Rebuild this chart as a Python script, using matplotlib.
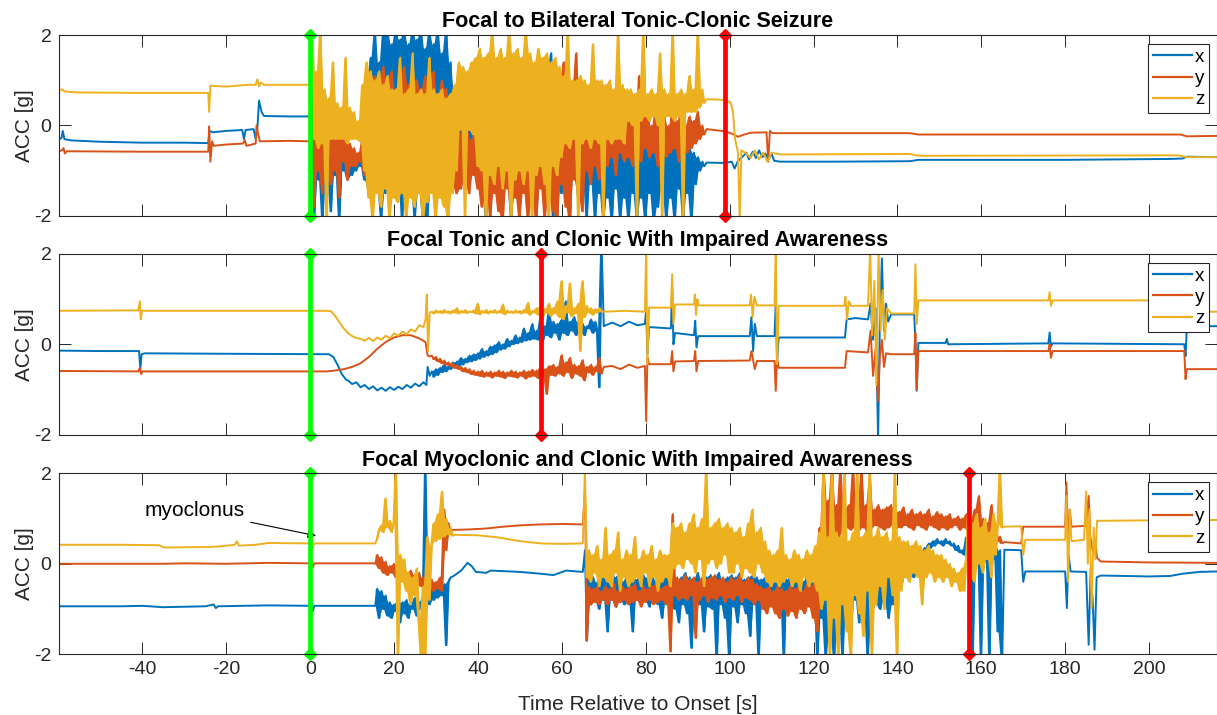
import numpy as np
import matplotlib
matplotlib.use('Agg')
import matplotlib.pyplot as plt

plt.rcParams['font.family'] = ['Liberation Sans', 'DejaVu Sans']
plt.rcParams['axes.unicode_minus'] = False

STEP = 0.5  # spacing of the dense burst readings [s]

titles = ['Focal to Bilateral Tonic-Clonic Seizure',
          'Focal Tonic and Clonic With Impaired Awareness',
          'Focal Myoclonic and Clonic With Impaired Awareness']
onsets = [0, 0, 0]
offsets = [99, 55, 157]
channels = ['x', 'y', 'z']
xticks = [-40, -20, 0, 20, 40, 60, 80, 100, 120, 140, 160, 180, 200]
yticks = [-2, 0, 2]

# ---------------- seizure 1 ----------------
p1_x_pts = [(-60, -0.30), (-59.3, -0.28), (-59.0, -0.12), (-58.6, -0.30), (-57, -0.33), (-50, -0.36),
            (-40, -0.38), (-30, -0.38), (-24.3, -0.39), (-24.0, -0.12), (-23.2, -0.15), (-20, -0.12),
            (-16.2, -0.10), (-15.8, -0.30), (-15.4, -0.10), (-13.5, -0.08), (-13.0, -0.30), (-12.6, -0.08),
            (-12.2, 0.55), (-11.6, 0.30), (-11.0, 0.21), (-5, 0.20), (0.0, 0.20),
            (94.5, -0.82), (99, -0.83), (100.5, -0.80), (101.2, -0.95), (102, -0.78), (103, -0.70),
            (104, -0.60), (104.6, -0.75), (105.5, -0.58), (106.3, -0.72), (107, -0.55), (107.8, -0.70),
            (108.5, -0.62), (109.3, -0.75), (110, -0.62), (110.6, -0.78), (112, -0.80), (125, -0.80),
            (143, -0.79), (145, -0.76), (180, -0.76), (205, -0.74), (208, -0.73), (209, -0.69), (216.3, -0.70)]
p1_x_burst = (0.5, [
    -0.3, -2.1, -0.6, -1.2, -0.7, -2.1, -0.6, -1.1, -0.7, -1.9,
    -0.6, -1.1, -0.7, -2.1, -0.7, -1.0, -0.6, -1.2, -0.7, -1.1,
    -0.7, -1.0, -0.8, -0.9, -0.5, -1.2, 0.8, -1.4, 1.5, -1.5,
    2.1, -1.4, 1.4, -2.1, 2.1, -1.5, 2.1, -1.3, 1.8, -1.4,
    2.1, -1.2, 1.9, -2.1, 2.1, -1.4, 1.8, -1.3, 2.1, -2.1,
    1.9, -1.5, 2.1, -2.1, 1.7, -2.1, 2.1, -1.4, 1.8, -1.5,
    2.1, -1.3, 1.6, -1.6, 2.1, -1.4, 1.4, -1.2, 0.8, -1.0,
    0.3, -0.8, 0.2, -0.9, 0.1, -0.8, 0.2, -1.0, 0.5, -1.2,
    1.2, -1.5, 1.0, -2.1, 1.3, -1.2, 0.9, -1.4, 1.1, -1.0,
    1.2, -1.6, 0.8, -1.3, 1.0, -2.1, 1.1, -1.2, 0.9, -1.5,
    1.0, -1.1, 1.2, -1.8, 0.8, -1.2, 1.0, -2.1, 0.7, -1.3,
    0.9, -1.4, 1.0, -1.0, 1.6, -2.1, 0.8, -1.2, 0.6, -1.5,
    0.5, -1.2, 0.7, -2.1, 0.4, -1.0, 0.6, -1.6, 0.3, -1.1,
    0.0, -2.1, -0.2, -1.3, -0.3, -2.1, -0.2, -1.5, -0.4, -2.1,
    -0.4, -1.6, -0.3, -2.1, -0.5, -1.4, -0.4, -2.1, -0.5, -1.6,
    -0.5, -2.1, -0.4, -1.5, -0.5, -2.1, -0.4, -1.6, -0.5, -2.1,
    -0.4, -1.5, -0.5, -2.1, -0.4, -1.8, -0.5, -1.4, -0.6, -2.1,
    -0.4, -1.6, -0.5, -2.1, -0.5, -1.4, -0.4, -2.1, -0.5, -1.5,
    -0.5, -2.1, -0.6, -1.3, -0.7, -1.0, -0.8, -0.9])

p1_y_pts = [(-60, -0.57), (-59.2, -0.55), (-58.8, -0.50), (-58.5, -0.62), (-58, -0.57), (-40, -0.58),
            (-24.3, -0.58), (-24.1, -0.02), (-23.8, -0.80), (-23.4, -0.35), (-23, -0.45), (-20, -0.42),
            (-16, -0.40), (-15.6, -0.32), (-15.2, -0.45), (-13, -0.40), (-12.8, 0.00), (-12.4, -0.20),
            (-12.0, -0.35), (-5, -0.34), (0, -0.35),
            (94.5, -0.08), (99, -0.13), (100.5, -0.18), (102, -0.25), (103.5, -0.20), (105, -0.16),
            (108.8, -0.15), (109.2, -0.80), (109.6, -0.12), (110.2, -0.17), (143, -0.17), (145, -0.20),
            (207.5, -0.20), (209, -0.24), (216.3, -0.23)]
p1_y_burst = (0.5, [
    1.2, -1.8, 0.4, -1.0, 0.2, -1.5, -0.1, -0.9, 0.0, -1.3,
    -0.2, -1.0, 0.1, -1.6, -0.3, -0.8, -0.2, -1.2, -0.4, -0.9,
    -0.5, -0.9, -0.6, -0.8, -0.3, -1.1, 0.5, -1.4, 1.0, -1.7,
    1.1, -1.3, 0.9, -1.6, 1.3, -1.1, 1.0, -1.5, 1.2, -1.2,
    0.8, -1.6, 1.1, -1.0, 1.3, -1.4, 0.9, -1.2, 1.2, -1.7,
    1.0, -1.1, 0.8, -1.5, 1.1, -1.3, 0.9, -1.0, 1.2, -1.6,
    0.7, -1.2, 1.0, -1.4, 0.8, -0.9, 0.3, -1.3, 0.0, -1.5,
    -0.1, -1.4, -0.2, -1.2, -0.1, -1.5, -0.3, -1.1, 0.2, -1.4,
    0.8, -1.8, 0.6, -1.3, 1.0, -2.1, 0.7, -1.5, 0.9, -1.9,
    0.5, -2.1, 0.8, -1.4, 0.6, -1.9, 1.2, -1.6, 0.7, -2.1,
    0.9, -1.5, 0.6, -2.1, 1.1, -1.7, 0.5, -2.1, 0.8, -1.4,
    0.6, -2.1, 1.0, -1.6, 0.7, -1.9, 0.5, -2.1, 0.9, -1.3,
    1.4, -1.8, 0.6, -2.1, 0.8, -1.2, 1.6, -1.5, 0.5, -1.9,
    0.7, -1.0, 0.4, -1.3, 1.0, -0.9, 0.3, -1.2, 0.6, -0.8,
    0.2, -0.9, 0.5, -0.7, 0.1, -1.1, 0.9, -0.6, 0.3, -0.8,
    0.1, -0.7, 0.4, -0.9, 0.0, -0.6, 1.1, -0.8, 0.2, -0.5,
    0.3, -0.7, 0.0, -0.6, 0.5, -0.9, 0.1, -0.5, 0.2, -0.7,
    0.0, -0.6, 0.4, -0.5, 0.1, -0.8, 0.3, -0.4, 0.0, -0.6,
    0.2, -0.5, 0.1, -0.4, 0.3, -0.3, 0.0, -0.2])

p1_z_pts = [(-60, 0.76), (-59.2, 0.80), (-58.5, 0.75), (-55, 0.73), (-40, 0.72), (-24.3, 0.72),
            (-24.1, 0.30), (-23.8, 0.88), (-20, 0.86), (-15, 0.90), (-13, 0.90), (-12.6, 1.02),
            (-12.2, 0.86), (-11.8, 0.95), (-11.0, 0.90), (0, 0.90),
            (94.5, 0.58), (98, 0.57), (100.2, 0.52), (100.8, 0.30), (101.3, -0.30), (102.0, -0.60),
            (102.4, -2.1), (102.8, -0.55), (104, -0.62), (105, -0.72), (106, -0.55), (107, -0.75),
            (108, -0.60), (109, -0.80), (110, -0.60), (112, -0.64), (143, -0.63), (145, -0.67),
            (207, -0.66), (209, -0.70), (216.3, -0.70)]
p1_z_burst = (0.5, [
    2.1, -0.3, 1.2, -0.5, 2.1, -0.4, 0.8, -2.1, 0.6, -0.3,
    1.4, -0.3, 0.5, -0.3, 0.4, -0.3, 1.5, -0.4, 0.4, -0.3,
    0.3, -0.3, 0.1, -0.35, 0.9, -1.0, 1.4, -1.6, 1.2, -2.1,
    1.0, -1.5, 1.2, -1.8, 0.9, -1.4, 1.1, -2.1, 0.8, -1.6,
    0.8, -1.7, 1.5, -1.5, 0.7, -2.1, 0.8, -1.6, 1.6, -1.8,
    0.7, -1.5, 0.8, -2.1, 0.7, -1.7, 1.5, -1.5, 0.8, -2.1,
    0.7, -1.6, 0.8, -1.8, 0.6, -2.1, 0.7, -1.5, 0.9, -1.0,
    1.4, -0.1, 1.3, -2.1, 1.2, -0.1, 1.4, -0.2, 1.5, -0.9,
    1.7, -1.0, 1.5, -2.1, 1.6, -1.1, 2.1, -1.3, 1.5, -0.9,
    1.7, -1.4, 1.5, -1.0, 2.1, -2.1, 1.6, -1.2, 1.7, -1.0,
    1.5, -1.3, 2.1, -1.0, 1.6, -2.1, 1.4, -1.1, 1.7, -0.9,
    1.5, -1.3, 1.6, -2.1, 1.4, -0.9, 1.5, -1.1, 1.3, -0.7,
    1.1, -0.4, 2.1, -0.5, 1.0, -0.3, 1.0, -2.1, 1.1, -0.4,
    1.0, -0.3, 0.9, -0.5, 1.8, -0.3, 1.0, -0.4, 1.0, -2.1,
    0.9, -0.3, 1.0, -0.4, 0.8, -0.3, 2.1, -0.3, 0.9, -0.4,
    0.8, 0.1, 0.8, 0.0, 0.7, -2.1, 0.8, 0.1, 2.1, 0.2,
    0.7, 0.1, 0.8, 0.2, 0.7, 0.0, 1.6, -2.1, 0.8, 0.2,
    0.7, 0.2, 2.1, 0.1, 0.7, 0.2, 0.8, -2.1, 0.7, 0.3,
    1.1, 0.3, 0.8, 0.3, 2.1, 0.4, 0.8, 0.5])

# ---------------- seizure 2 ----------------
p2_x_pts = [(-60, -0.14), (-50, -0.15), (-40.8, -0.15), (-40.5, -0.55), (-40.2, -0.22), (-39.5, -0.20),
            (-20, -0.21), (4.5, -0.22), (5.5, -0.28), (6.5, -0.45), (7.5, -0.65), (8.5, -0.78),
            (9, -0.80), (10, -0.88), (11, -0.84), (12, -0.95), (13, -0.90), (14, -0.99), (15, -0.93),
            (16, -1.02), (17, -0.96), (18, -1.03), (19, -0.95), (20, -1.01), (21, -0.94), (22, -0.99),
            (23, -0.90), (24, -0.96), (25, -0.87), (26, -0.93), (27, -0.84), (27.7, -0.90),
            (28.0, -0.50), (28.5, -0.70),
            (70.0, 0.40), (72, 0.48), (74, 0.40), (76, 0.50), (78, 0.42), (79.8, 0.45), (80.1, 0.75),
            (80.4, -0.22), (80.8, 0.38), (86.0, 0.35), (86.3, 1.24), (86.6, 0.0), (87.0, 0.25),
            (91.5, 0.20), (91.8, 0.52), (92.1, -0.07), (92.5, 0.18), (104.8, 0.18), (105.2, 0.60),
            (105.6, -0.15), (106.0, 0.45), (106.5, 0.18), (110.7, 0.18), (111.0, 0.92), (111.3, -0.40),
            (111.7, 0.15), (127.5, 0.15), (127.9, 0.55), (130, 0.58), (133, 0.55), (133.6, 0.9),
            (134.2, 0.1), (134.8, 0.8), (135.4, -2.1), (135.8, 0.4), (136.3, 1.9), (136.8, 0.3),
            (137.3, 0.9), (137.8, 0.5), (138.5, 0.66), (144.0, 0.66), (144.3, 0.04), (144.6, -1.03),
            (145.0, 0.03), (151.5, 0.03), (151.8, 0.12), (152.1, 0.0), (176.0, 0.02), (176.3, 0.26),
            (176.6, -0.05), (177.0, 0.02), (208.4, 0.0), (208.7, -0.26), (209.0, 0.35), (209.5, 0.40),
            (216.3, 0.40)]
p2_x_burst = (29.0, [
    -0.60, -0.72, -0.55, -0.68, -0.52, -0.62, -0.45, -0.60, -0.48, -0.55,
    -0.40, -0.52, -0.38, -0.48, -0.30, -0.45, -0.32, -0.40, -0.25, -0.38,
    -0.22, -0.35, -0.20, -0.32, -0.10, -0.28, -0.15, -0.25, -0.05, -0.22,
    -0.02, -0.18, 0.05, -0.12, 0.00, -0.10, 0.12, -0.05, 0.08, 0.00,
    0.20, 0.02, 0.15, 0.05, 0.35, 0.08, 0.25, 0.10, 0.45, 0.12,
    0.30, 0.10, 0.60, 0.05, 0.40, 0.20, 0.75, 0.15, 0.50, 0.25,
    0.45, 0.10, 0.55, 0.25, 0.95, 0.20, 0.50, 0.30, 0.60, 0.20,
    0.50, 0.30, 0.45, 0.20, 0.40, 0.35, 0.55, 0.25, 0.50, 0.30,
    -0.95, 2.1])

p2_y_pts = [(-60, -0.59), (-41, -0.60), (-40.6, -0.52), (-40.3, -0.66), (-40, -0.60), (-20, -0.60),
            (4, -0.60), (6, -0.58), (8, -0.55), (10, -0.50), (12, -0.42), (14, -0.28), (16, -0.10),
            (18, 0.05), (20, 0.15), (22, 0.20), (24, 0.20), (26, 0.13), (27.5, 0.05), (28.0, -0.25),
            (28.5, -0.27),
            (70, -0.50), (72, -0.48), (74, -0.55), (76, -0.45), (78, -0.52), (79.8, -0.48), (80.1, -1.70),
            (80.4, -0.30), (80.8, -0.44), (86.0, -0.44), (86.3, -0.15), (86.6, -0.60), (87.0, -0.38),
            (91.5, -0.37), (91.8, -0.15), (92.1, -0.60), (92.5, -0.37), (104.8, -0.36), (105.2, -0.15),
            (106.0, -0.55), (106.5, -0.37), (110.7, -0.37), (111.0, -1.03), (111.3, -0.30), (111.7, -0.52),
            (127.5, -0.52), (127.9, -0.15), (133, -0.18), (133.6, 0.3), (134.2, -0.7), (134.8, -0.1),
            (135.4, -1.25), (135.8, -0.3), (136.3, 0.1), (136.8, -0.5), (137.3, -0.2), (138.5, -0.22),
            (144.0, -0.22), (144.3, 0.25), (144.6, -1.0), (145.0, -0.15), (176.0, -0.15), (176.3, 0.0),
            (176.6, -0.3), (177.0, -0.15), (208.4, -0.15), (208.7, -0.77), (209.0, -0.55), (216.3, -0.55)]
p2_y_burst = (29.0, [
    -0.25, -0.33, -0.28, -0.38, -0.32, -0.42, -0.36, -0.45, -0.40, -0.48,
    -0.42, -0.52, -0.46, -0.55, -0.50, -0.60, -0.52, -0.62, -0.55, -0.66,
    -0.58, -0.68, -0.60, -0.70, -0.58, -0.72, -0.62, -0.70, -0.60, -0.74,
    -0.62, -0.70, -0.58, -0.72, -0.60, -0.75, -0.62, -0.70, -0.58, -0.72,
    -0.60, -0.74, -0.62, -0.70, -0.58, -0.76, -0.60, -0.72, -0.56, -0.70,
    -0.58, -0.75, -0.50, -0.72, -0.55, -1.10, -0.48, -0.68, -0.45, -0.70,
    -0.50, -0.65, -0.24, -0.70, -0.40, -0.62, -0.30, -0.75, -0.45, -0.65,
    -0.48, -0.70, -0.35, -0.80, -0.50, -0.62, -0.45, -0.68, -0.50, -0.60,
    -0.30, -0.65])

p2_z_pts = [(-60, 0.74), (-41, 0.75), (-40.6, 0.95), (-40.4, 0.55), (-40.1, 0.74), (-20, 0.74),
            (4, 0.74), (5, 0.73), (6, 0.62), (7, 0.48), (8, 0.35), (9, 0.25), (10, 0.18), (11, 0.14),
            (12, 0.12), (13, 0.08), (14, 0.14), (15, 0.07), (16, 0.15), (17, 0.10), (18, 0.19),
            (19, 0.13), (20, 0.24), (21, 0.19), (22, 0.28), (23, 0.22), (24, 0.33), (25, 0.28),
            (26, 0.42), (27, 0.38), (27.5, 0.55), (27.8, 1.10), (28.1, -0.15), (28.5, 0.70),
            (70, 0.72), (75, 0.74), (79.8, 0.72), (80.1, 2.1), (80.4, -0.44), (80.8, 0.81), (86.0, 0.81),
            (86.3, 1.55), (86.6, 0.45), (87.0, 0.88), (91.5, 0.88), (91.7, 1.1), (92.0, 0.65), (92.3, 1.0),
            (92.6, 0.86), (104.8, 0.86), (105.1, 1.1), (105.5, 0.6), (105.9, 1.05), (106.5, 0.86),
            (110.7, 0.86), (111.0, 2.1), (111.3, -0.44), (111.7, 0.85), (127.3, 0.85), (127.6, 1.05),
            (128.0, 0.55), (128.4, 0.95), (129, 0.85), (133, 0.85), (133.5, 2.1), (134.0, 0.2),
            (134.5, 1.4), (135.0, -0.9), (135.5, 2.1), (136.0, 0.3), (136.5, 1.2), (137.0, 0.1),
            (137.5, 0.8), (138.5, 0.68), (144.0, 0.68), (144.3, 1.77), (144.6, 0.45), (145.0, 0.97),
            (176.0, 0.97), (176.3, 1.15), (176.6, 0.85), (177.0, 0.97), (208.4, 0.97), (208.7, 1.2),
            (209.0, 0.72), (216.3, 0.72)]
p2_z_burst = (29.0, [
    0.72, 0.68, 0.75, 0.70, 0.74, 0.69, 0.76, 0.70, 0.73, 0.68,
    0.75, 0.70, 0.80, 0.68, 0.74, 0.70, 0.76, 0.69, 0.73, 0.71,
    0.75, 0.68, 0.90, 0.66, 0.74, 0.70, 0.76, 0.68, 0.74, 0.70,
    0.76, 0.69, 0.74, 0.70, 0.88, 0.66, 0.75, 0.70, 0.73, 0.69,
    0.75, 0.70, 0.74, 0.68, 0.76, 0.70, 0.92, 0.65, 0.74, 0.70,
    0.80, 0.65, 0.85, 0.60, 0.78, 0.70, 0.90, 0.62, 0.80, 0.68,
    0.95, 0.60, 1.40, 0.55, 0.85, 0.70, 1.35, 0.62, 0.80, 0.68,
    0.90, -0.15, 1.40, 0.60, 0.85, 0.70, 0.80, 0.65, 0.78, 0.70,
    0.80, 0.72])

# ---------------- seizure 3 ----------------
p3_x_pts = [(-60, -0.94), (-45, -0.94), (-40, -0.93), (-35, -0.96), (-25, -0.94), (-23, -0.90),
            (-22.5, -0.98), (-22, -0.94), (-10, -0.92), (0, -0.93), (0.3, -0.78), (0.6, -1.05),
            (1.0, -0.93), (15, -0.93),
            (34.5, -0.25), (36, -0.15), (37.5, 0.02), (38.5, -0.05), (39.5, -0.18), (42, -0.20),
            (43, -0.15), (50, -0.18), (55, -0.22), (58, -0.25), (61, -0.15), (65, -0.18),
            (165.5, 0.31), (169.5, 0.30), (170.0, -0.40), (170.5, -0.17), (180, -0.17), (180.4, -0.98),
            (180.8, 0.2), (181.3, -0.17), (185, -0.18), (185.6, -1.79), (186.1, -0.1), (186.6, -0.9),
            (187.0, -1.9), (187.5, -0.3), (188.5, -0.26), (195, -0.27), (200, -0.28), (205, -0.27),
            (208, -0.22), (212, -0.18), (216.3, -0.17)]
p3_x_burst1 = (15.5, [
    -0.93, -0.55, -1.20, -0.60, -1.00, -0.70, -1.15, -0.85, -1.20, -0.90,
    -1.05, -0.80, -1.30, -0.85, -1.10, -0.80, -1.20, -0.90, -1.00, -0.75,
    -1.15, -0.85, -1.00, -0.70, 2.10, -0.60, -0.90, -0.50, -0.80, -0.55,
    -0.75, -0.50, -0.70, -0.45, -1.80, -0.40, -0.30, -0.28])
p3_x_burst2 = (65.5, [
    0.3, -1.7, -0.2, -0.9, -0.3, -0.8, -0.4, -1.0, -0.3, -0.8,
    -0.2, -1.5, -0.35, -0.8, -0.3, -0.95, -0.25, -0.75, -0.4, -0.9,
    -0.3, -0.85, -0.2, -1.5, -0.35, -0.8, -0.3, -0.9, -0.25, -0.8,
    -0.3, -0.95, -0.2, -0.8, -0.35, -0.9, -0.3, -1.2, -0.25, -0.85,
    -0.3, -0.9, -0.2, -1.0, -0.4, -1.3, -0.3, -0.9, -0.2, -1.1,
    -0.3, -1.86, -0.35, -1.0, -0.2, -0.9, -0.4, -1.5, -0.3, -0.95,
    -0.25, -1.0, -0.3, -2.1, -0.2, -0.9, -0.35, -1.2, -0.3, -2.1,
    -0.25, -0.95, -0.3, -1.3, -0.2, -0.9, -0.35, -1.1, -0.3, -1.6,
    -0.25, -0.9, -0.3, -2.1, -0.35, -0.8, -0.3, -0.75, -0.35, -0.7,
    -0.3, -0.7, -0.35, -0.65, -0.3, -2.1, -0.35, -0.7, -0.3, -0.65,
    -0.35, -0.7, -0.3, -0.65, -0.4, -0.7, -0.3, -0.6, -0.35, -0.7,
    -0.3, -2.1, -0.2, -1.2, -0.1, -2.1, -0.3, -1.5, 0.2, -2.1,
    -0.2, -1.0, 0.1, -2.1, -0.3, -0.9, -0.1, -1.6, -0.2, -0.8,
    -0.3, -1.3, -0.1, -0.9, 0.0, -2.1, -0.2, -1.1, -0.3, -0.9,
    -0.1, -1.0, -0.2, -0.8, -0.3, -1.2, -0.1, -0.9, -0.2, -0.7,
    -0.1, -0.5, -0.15, -0.3, -0.1, -0.25, -0.15, -0.3, -0.1, -0.2,
    0.2, 0.1, 0.35, 0.25, 0.45, 0.35, 0.5, 0.4, 0.55, 0.45,
    0.5, 0.4, 0.55, 0.45, 0.5, 0.4, 0.45, 0.3, 0.4, 0.25,
    0.3, 0.2, 0.6, 0.5, 0.4, -2.1, 0.3, 0.1, 0.4, -2.1,
    0.3, 0.05, 0.4, -2.1, 0.35, 0.1, 0.4, -1.5, 0.3, -2.1])

p3_y_pts = [(-60, 0.0), (-45, 0.0), (-35, 0.0), (-30, 0.01), (-20, 0.0), (-10, 0.02), (0, 0.01),
            (0.3, 0.10), (0.6, -0.08), (1.0, 0.01), (15, 0.01),
            (34.5, 0.75), (38, 0.76), (42, 0.78), (46, 0.82), (50, 0.85), (55, 0.87), (60, 0.88), (65, 0.87),
            (165.5, 0.48), (169.5, 0.45), (170.0, 0.82), (180, 0.82), (180.3, 1.8), (180.7, 0.4),
            (181.1, 1.2), (181.5, 0.82), (185, 0.84), (185.6, 1.5), (186.0, 0.6), (186.6, 0.27),
            (187.2, 0.5), (187.6, 0.13), (188.5, 0.05), (200, 0.03), (216.3, 0.02)]
p3_y_burst1 = (15.5, [
    0.00, 0.20, -0.10, 0.15, -0.20, 0.05, -0.25, -0.05, -0.20, 0.00,
    -0.30, -0.15, -0.25, -0.10, -0.30, -0.20, -0.35, -0.15, -0.30, -0.25,
    -0.45, -0.20, -0.50, -0.30, -0.55, -0.25, -0.50, -0.35, -0.60, -0.40,
    -0.55, -0.30, -0.60, 1.20, 0.30, 0.90, 0.70, 0.75])
p3_y_burst2 = (65.5, [
    1.6, -1.7, -0.5, -0.9, -0.55, -0.85, -0.5, -0.9, -0.6, -0.8,
    -0.5, -0.9, -0.55, -0.8, -0.45, -0.95, -0.6, -0.85, -0.5, -0.8,
    -0.55, -0.9, -0.5, -0.85, -0.45, -0.8, -0.6, -0.95, -0.5, -0.85,
    -0.55, -0.8, -0.5, -0.9, -0.45, -0.85, -0.55, -0.8, -0.5, -0.9,
    -0.45, -1.94, 1.1, -0.7, -0.3, -0.8, -0.35, -0.75, -0.25, -0.8,
    -0.35, -0.7, -0.3, -1.64, -0.4, -0.8, -0.3, -0.7, -0.35, -0.85,
    -0.3, -0.75, -0.25, -0.8, -0.35, -0.7, -0.3, -0.85, -0.4, -0.75,
    -0.3, -0.8, -0.35, -0.7, -0.25, -0.85, -0.4, -0.75, -0.3, -0.8,
    -0.35, -0.9, -0.45, -0.8, -0.5, -1.0, -0.55, -1.1, -0.5, -0.95,
    -0.6, -1.1, -0.5, -1.2, -0.55, -1.0, -0.6, -1.15, -0.5, -1.05,
    -0.55, -1.2, -0.5, -1.0, -0.6, -1.1, -0.45, -0.95, -0.5, -1.2,
    -0.3, -1.5, 0.8, -0.9, 2.1, -0.4, 1.4, -0.6, 2.1, 0.3,
    1.3, 0.5, 2.1, 0.7, 1.2, 0.8, 1.3, 0.75, 2.1, 0.8,
    1.2, 0.75, 2.1, 0.8, 1.3, 0.7, 1.9, 0.8, 1.2, 0.85,
    1.3, 0.8, 1.2, 0.75, 1.25, 0.8, 1.3, 0.85, 1.2, 0.8,
    1.15, 0.8, 1.25, 0.85, 1.1, 0.8, 1.2, 0.75, 1.1, 0.85,
    1.15, 0.8, 1.1, 0.75, 1.2, 0.85, 1.05, 0.8, 1.15, 0.75,
    1.1, 0.8, 1.05, 0.75, 1.1, 0.8, 1.0, 0.85, 1.05, 0.75,
    1.0, 0.8, 1.1, 0.7, 0.95, 0.75, 1.2, 0.6, 1.5, 0.65,
    1.0, 0.5, 0.9, 0.55, 1.3, 0.45, 0.8, 0.5, 0.6, 0.45])

p3_z_pts = [(-60, 0.42), (-45, 0.42), (-36, 0.41), (-35, 0.36), (-25, 0.37), (-22, 0.38), (-20, 0.40),
            (-18, 0.42), (-17.5, 0.50), (-17, 0.40), (-13, 0.42), (-10, 0.46), (0, 0.45), (0.3, 0.62),
            (0.6, 0.35), (1.0, 0.45), (10, 0.45), (15, 0.45),
            (34.5, 0.64), (40, 0.63), (45, 0.58), (50, 0.50), (55, 0.45), (60, 0.44), (65, 0.45),
            (165.5, 0.82), (169.5, 0.83), (170.0, 0.2), (170.5, 0.53), (180, 0.53), (180.3, 1.5),
            (180.7, -0.4), (181.1, 1.2), (181.5, 0.5), (184.5, 0.53), (185, 1.6), (185.4, 0.0),
            (185.8, 1.2), (186.3, -0.98), (186.8, 0.8), (187.2, 0.1), (187.6, 0.95), (200, 0.96),
            (210, 0.96), (216.3, 0.97)]
p3_z_burst1 = (15.5, [
    0.45, 0.55, 0.75, 0.85, 0.70, 1.45, 0.80, 0.95, 0.70, 0.90,
    2.10, -2.10, 0.20, -0.40, 0.10, -0.60, -0.20, -0.90, -0.30, -0.70,
    -0.10, -1.30, -2.10, -0.50, -2.10, 0.60, -0.80, 0.40, 0.90, 0.50,
    1.10, 0.55, 1.60, 0.60, 1.00, 0.65, 0.80, 0.62])
p3_z_burst2 = (65.5, [
    2.1, -0.3, 0.3, -0.4, 0.2, -0.2, 0.4, -0.5, 0.1, -0.3,
    0.8, -0.4, 0.2, -0.5, 0.3, -0.2, 0.7, -0.6, 0.1, -0.3,
    0.3, -0.5, 0.2, -0.4, 0.6, -0.3, 0.1, -0.5, 0.3, -0.2,
    0.2, -0.5, 0.4, -0.3, 0.1, -0.6, 0.3, -0.4, 0.2, -0.3,
    0.2, -0.5, 0.9, -0.1, 0.8, 0.0, 0.9, -0.1, 0.7, 0.1,
    0.9, 0.0, 1.1, -0.2, 0.8, 0.1, 1.0, -0.5, 2.1, 0.0,
    0.8, 0.1, 0.9, -0.1, 1.0, 0.0, 0.8, 0.2, 0.9, -0.2,
    0.8, -0.2, 0.7, 0.0, 0.8, -0.3, 0.6, -0.1, 0.9, -0.2,
    1.2, -0.3, 0.7, 0.0, 0.8, -0.2, 0.5, -0.4, 0.3, -0.5,
    0.2, -0.4, 0.3, -0.5, 0.8, -0.4, 0.2, -0.3, 0.1, -0.5,
    0.3, -0.4, 0.2, -0.6, 0.1, -0.3, 0.3, -0.5, 0.2, -0.4,
    0.4, -0.6, 0.7, -1.0, 2.1, -0.8, 0.6, -2.1, 2.1, -1.2,
    0.7, -2.1, 0.6, -0.9, 2.1, -1.5, 0.5, -2.1, 0.7, -0.7,
    2.1, -1.1, 0.6, -1.6, 0.7, -0.6, 2.1, -2.1, 0.6, -0.9,
    0.8, -0.5, 0.6, -1.0, 0.7, -0.3, 0.5, -0.7, 2.1, -2.1,
    0.6, -0.6, 0.5, -0.3, 0.5, -0.4, 0.4, -0.2, 0.5, -0.3,
    0.4, -0.9, 0.3, -0.3, 0.4, -0.2, 0.3, -0.4, 0.2, -0.3,
    0.2, -0.4, 0.1, -0.3, 0.0, -0.5, -0.1, -0.4, -0.2, -0.6,
    -0.1, -0.6, 0.1, 1.2, -0.3, 0.9, -0.4, 1.1, 0.0, 0.8,
    -0.2, 1.0, 0.1, 0.7, -0.3, 1.1, 0.2, 0.9, 2.1, 0.8])

panels = [
    [(p1_x_pts, [p1_x_burst]), (p1_y_pts, [p1_y_burst]), (p1_z_pts, [p1_z_burst])],
    [(p2_x_pts, [p2_x_burst]), (p2_y_pts, [p2_y_burst]), (p2_z_pts, [p2_z_burst])],
    [(p3_x_pts, [p3_x_burst1, p3_x_burst2]), (p3_y_pts, [p3_y_burst1, p3_y_burst2]),
     (p3_z_pts, [p3_z_burst1, p3_z_burst2])],
]

colors = ['#0072BD', '#D95319', '#EDB120']
axis_color = '#262626'


def burst_times(t0, vals):
    return t0 + STEP * np.arange(len(vals))


def build_trace(pts, bursts):
    t = [p[0] for p in pts]
    v = [p[1] for p in pts]
    for t0, vals in bursts:
        t += list(burst_times(t0, vals))
        v += list(vals)
    order = np.argsort(t, kind='stable')
    return np.asarray(t)[order], np.asarray(v)[order]


def fill_burst(ax, t0, vals, color, z):
    # the real signal swings faster than the readings, so shade the span
    # covered between neighbouring readings
    t = burst_times(t0, vals)
    v = np.asarray(vals)
    hi = np.append(np.maximum(v[:-1], v[1:]), v[-1])
    lo = np.append(np.minimum(v[:-1], v[1:]), v[-1])
    ax.fill_between(t, lo, hi, color=color, lw=0, zorder=z)


fig = plt.figure(figsize=(12.17, 7.15), dpi=100)
ax_left, ax_width = 0.0481, 0.9519
ax_bottoms = [0.698, 0.392, 0.085]
ax_height = 0.253

for i, panel in enumerate(panels):
    ax = fig.add_axes([ax_left, ax_bottoms[i], ax_width, ax_height])
    handles = []
    for k, ((pts, bursts), c, name) in enumerate(zip(panel, colors, channels)):
        t, v = build_trace(pts, bursts)
        for t0, vals in bursts:
            fill_burst(ax, t0, vals, c, 2 + k)
        ln, = ax.plot(t, v, color=c, lw=1.4, label=name, zorder=2 + k)
        handles.append(ln)

    ax.plot([onsets[i]] * 2, [-2, 2], color='#00FF00', lw=3.4, marker='D', ms=6.5,
            clip_on=False, zorder=6)
    ax.plot([offsets[i]] * 2, [-2, 2], color='#FF0000', lw=3.4, marker='D', ms=6.5,
            clip_on=False, zorder=6)

    ax.set_xlim(-60, 216.2)
    ax.set_ylim(-2, 2)
    ax.set_xticks(xticks)
    ax.set_yticks(yticks)
    ax.tick_params(direction='in', length=8.5, width=0.7, top=True, right=True,
                   labelsize=14, colors=axis_color, pad=5)
    if i < 2:
        ax.tick_params(labelbottom=False)
    for sp in ax.spines.values():
        sp.set_color(axis_color)
        sp.set_linewidth(0.8)
        sp.set_zorder(7)
    ax.set_ylabel('ACC [g]', fontsize=15, color=axis_color, labelpad=0.5)
    ax.set_title(titles[i], fontsize=15.5, fontweight='bold', pad=5.5)

    leg = ax.legend(handles=handles, loc='upper right', bbox_to_anchor=(0.9935, 0.952),
                    borderaxespad=0, fontsize=13.5, handlelength=2.08, handletextpad=0.16,
                    labelspacing=0.22, borderpad=0.27, fancybox=False, framealpha=1)
    leg.get_frame().set_edgecolor(axis_color)
    leg.get_frame().set_linewidth(0.8)
    for lh in leg.get_lines():
        lh.set_linewidth(1.6)
    leg.set_zorder(10)

    if i == 2:
        ax.set_xlabel('Time Relative to Onset [s]', fontsize=15, color=axis_color, labelpad=12)
        ax.annotate('myoclonus', xy=(1.4, 0.62), xytext=(-15.5, 1.17), ha='right', va='center',
                    fontsize=15,
                    arrowprops=dict(arrowstyle='-|>', color='k', lw=0.8, shrinkA=2, shrinkB=0,
                                    mutation_scale=12))

fig.savefig('out.png', dpi=100)
